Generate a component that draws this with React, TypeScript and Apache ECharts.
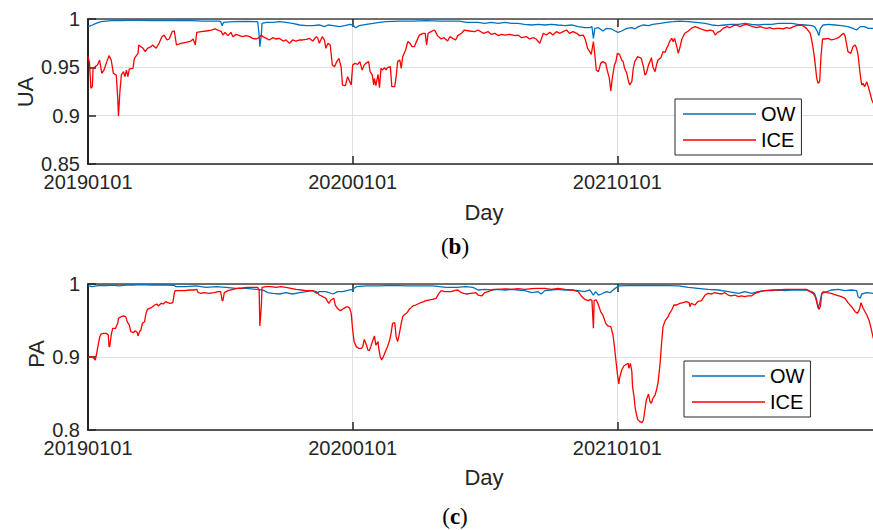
import React, { useEffect, useRef } from "react";
import * as echarts from "echarts";

const X_TICK_LABELS = ["20190101", "20200101", "20210101"];
const SERIES_NAMES = ["OW", "ICE"];

// (b) UA — ICE
const UA_ICE_DAY = [0,2,4,6,7,13,16,19,22,26,29,32,35,39,41,42,44,46,49,51,53,55,57,62,64,69,70,73,76,79,82,87,89,94,98,102,105,109,112,116,119,122,128,135,142,145,148,150,156,163,170,175,179,184,186,189,193,197,200,204,209,213,218,223,227,232,236,239,241,246,250,255,259,264,269,273,278,282,287,292,296,301,305,310,315,317,319,323,326,328,331,334,337,340,343,346,349,351,355,358,361,363,365,368,372,375,378,381,383,387,389,392,394,395,397,400,402,404,406,409,411,413,417,419,423,425,427,430,432,434,438,441,444,447,450,453,457,462,465,467,469,473,478,482,487,491,496,499,503,507,510,515,519,526,533,538,545,552,556,561,566,570,575,582,589,593,598,605,609,614,618,623,628,632,637,641,646,651,655,660,664,669,674,678,683,686,689,692,694,697,699,701,704,707,710,714,716,719,721,723,726,728,730,733,736,738,740,743,745,747,750,752,754,758,761,763,766,768,770,773,775,777,779,782,784,786,790,793,796,798,800,802,805,807,809,812,814,816,819,823,828,832,837,841,845,850,854,858,862,865,868,871,876,881,885,890,894,899,904,908,913,917,922,927,931,936,940,945,950,954,959,963,968,973,977,982,986,991,996,998,1000,1002,1005,1007,1009,1011,1013,1016,1021,1025,1030,1035,1039,1042,1044,1046,1048,1052,1055,1058,1060,1062,1065,1067,1069,1071,1074,1076,1078,1081,1083];
const UA_ICE = [0.961,0.955,0.9283,0.930,0.949,0.9524,0.9576,0.9438,0.9472,0.9559,0.9621,0.9576,0.9438,0.9421,0.9179,0.8997,0.9248,0.9421,0.9455,0.9403,0.9472,0.9403,0.9483,0.949,0.9593,0.9645,0.9731,0.9714,0.9697,0.9662,0.9697,0.9714,0.9731,0.9697,0.9748,0.9817,0.9834,0.9783,0.9793,0.9869,0.9876,0.9731,0.9748,0.9759,0.9772,0.9793,0.9731,0.9862,0.9869,0.9876,0.9886,0.9897,0.9886,0.9869,0.9834,0.9862,0.9828,0.9862,0.9817,0.9841,0.9828,0.9817,0.9828,0.9817,0.98,0.9793,0.9807,0.9834,0.9817,0.98,0.9783,0.9807,0.9793,0.98,0.9772,0.9783,0.9748,0.9783,0.9772,0.9783,0.9783,0.979,0.98,0.9772,0.9817,0.98,0.9748,0.9817,0.9783,0.9697,0.9748,0.9731,0.9524,0.9507,0.9559,0.9593,0.9507,0.9317,0.931,0.9403,0.9352,0.9317,0.9524,0.9541,0.9531,0.9559,0.9472,0.9524,0.9541,0.9559,0.9455,0.9421,0.9317,0.9386,0.931,0.9428,0.929,0.949,0.9472,0.9497,0.9472,0.9497,0.9507,0.93,0.93,0.9403,0.9559,0.9576,0.949,0.961,0.9679,0.9766,0.9748,0.9714,0.9714,0.9766,0.9834,0.9852,0.9852,0.9731,0.9852,0.9869,0.9886,0.9828,0.9793,0.9807,0.9772,0.9817,0.98,0.9783,0.9828,0.9852,0.9886,0.9876,0.9869,0.9886,0.9852,0.9869,0.9841,0.9852,0.9828,0.9841,0.9834,0.9841,0.9828,0.9834,0.9807,0.9817,0.9793,0.9807,0.9793,0.9748,0.9852,0.9834,0.9862,0.9834,0.9869,0.9852,0.9869,0.9886,0.9852,0.9869,0.9852,0.9828,0.9834,0.9783,0.9697,0.9662,0.9634,0.9766,0.9628,0.9472,0.9455,0.9541,0.9559,0.9541,0.9472,0.9386,0.9255,0.9386,0.9524,0.9559,0.9645,0.9634,0.9576,0.9559,0.949,0.9438,0.9369,0.9317,0.9352,0.949,0.9559,0.961,0.96,0.9593,0.9507,0.9421,0.9438,0.9524,0.9559,0.96,0.9507,0.9455,0.9524,0.9576,0.96,0.9662,0.9655,0.9697,0.9724,0.9766,0.98,0.9766,0.98,0.9714,0.9645,0.9697,0.9793,0.9852,0.9876,0.9903,0.9921,0.991,0.9897,0.9886,0.9876,0.9886,0.9876,0.9834,0.9862,0.9869,0.9903,0.9921,0.991,0.9931,0.9938,0.9921,0.9938,0.9945,0.9931,0.9921,0.991,0.9921,0.991,0.9903,0.991,0.9897,0.9903,0.9903,0.9897,0.991,0.9903,0.9921,0.9931,0.9938,0.9931,0.9903,0.9852,0.9783,0.9697,0.9593,0.9386,0.9334,0.9352,0.9628,0.9793,0.9793,0.98,0.9783,0.9793,0.9807,0.9834,0.9852,0.9828,0.9748,0.9662,0.9645,0.9714,0.9731,0.9697,0.9628,0.9421,0.9317,0.9334,0.93,0.9352,0.93,0.9248,0.9162,0.9128];

// (b) UA — OW
const UA_OW_DAY = [0,6,11,18,25,34,43,57,71,89,112,135,158,181,183,185,187,200,218,234,236,237,239,240,246,255,264,273,282,292,301,310,319,326,331,338,347,354,361,365,369,374,384,393,402,411,430,448,466,485,503,512,522,533,538,547,556,566,575,584,593,602,612,621,630,639,648,658,667,676,685,692,695,697,699,704,710,715,722,727,731,736,743,750,754,759,766,773,779,789,798,807,816,828,839,851,860,869,878,887,897,906,915,924,933,943,952,961,970,979,989,998,1002,1006,1008,1010,1014,1021,1030,1039,1048,1055,1060,1065,1071,1076,1083];
const UA_OW = [0.9921,0.9938,0.9955,0.9972,0.9979,0.9983,0.9983,0.9986,0.9986,0.9983,0.9983,0.9986,0.9979,0.9979,0.9972,0.9931,0.9966,0.9972,0.9976,0.9972,0.9834,0.9714,0.9834,0.9955,0.9966,0.9966,0.9972,0.9966,0.9955,0.9938,0.9931,0.9931,0.9938,0.9921,0.9938,0.9931,0.9921,0.9931,0.9945,0.9938,0.991,0.9931,0.9945,0.9955,0.9966,0.9972,0.9979,0.9979,0.9983,0.9979,0.9979,0.9979,0.9966,0.9966,0.9966,0.9955,0.9966,0.9955,0.9966,0.9955,0.9955,0.9945,0.9938,0.9945,0.9938,0.9945,0.9938,0.9931,0.9938,0.9921,0.991,0.991,0.9921,0.98,0.9903,0.991,0.9876,0.9903,0.9897,0.9876,0.9862,0.9876,0.9903,0.991,0.9897,0.9921,0.9938,0.9931,0.9945,0.9955,0.9966,0.9972,0.9979,0.9972,0.9966,0.9955,0.9938,0.9931,0.9938,0.9945,0.9945,0.9955,0.9945,0.9938,0.9945,0.9945,0.9955,0.9955,0.9955,0.9945,0.9938,0.9931,0.9921,0.9869,0.9828,0.9903,0.9938,0.9945,0.9938,0.9931,0.9921,0.9903,0.9886,0.9921,0.9921,0.9903,0.9903];

// (c) PA — ICE
const PA_ICE_DAY = [0,4,7,10,12,14,16,18,21,25,28,29,30,32,34,38,41,42,46,49,52,54,57,59,63,65,68,69,71,73,75,78,80,82,85,88,92,95,97,101,104,107,110,113,117,119,120,126,133,140,147,150,152,156,160,167,174,180,183,185,186,188,193,200,206,213,220,227,234,236,237,239,240,246,252,259,266,273,280,287,294,301,308,315,319,324,328,332,335,339,341,344,348,351,355,358,361,363,365,367,370,373,377,379,381,384,386,388,390,393,395,397,400,401,403,405,407,410,413,416,418,420,423,425,427,429,432,434,436,439,441,443,446,448,452,455,459,463,466,471,475,480,484,487,492,496,501,505,510,515,521,528,535,538,543,547,552,559,566,575,584,593,602,612,621,630,639,648,658,667,676,681,685,690,693,695,697,698,701,704,707,710,714,717,721,724,726,728,730,732,733,736,739,743,745,746,748,750,751,753,755,758,761,764,766,768,770,773,775,777,779,782,784,786,789,791,793,796,800,802,805,808,812,816,821,825,829,830,832,837,841,846,851,855,860,864,869,874,878,883,887,892,897,901,906,910,915,920,927,933,943,952,961,970,979,986,991,996,1000,1003,1006,1008,1010,1012,1014,1019,1025,1032,1039,1044,1048,1053,1058,1061,1064,1066,1069,1074,1077,1080,1083];
const PA_ICE = [0.8995,0.9005,0.8995,0.8959,0.905,0.9164,0.9269,0.9315,0.9324,0.9324,0.9301,0.9142,0.9142,0.9301,0.9393,0.9393,0.9461,0.953,0.9553,0.9562,0.9553,0.9484,0.9438,0.9347,0.9333,0.9361,0.9333,0.9288,0.9347,0.937,0.9461,0.9484,0.9598,0.9653,0.9667,0.968,0.9712,0.9726,0.9699,0.9735,0.9726,0.9758,0.9744,0.9735,0.9744,0.9872,0.9909,0.9909,0.9909,0.9918,0.9918,0.9927,0.9881,0.9872,0.9881,0.9872,0.9881,0.9895,0.9895,0.9772,0.9772,0.9881,0.9909,0.9927,0.9941,0.9945,0.9954,0.9954,0.9954,0.9918,0.9425,0.9689,0.9954,0.9963,0.9963,0.9954,0.9963,0.9954,0.9941,0.9927,0.9918,0.9909,0.9909,0.9895,0.9849,0.9826,0.9804,0.9735,0.9781,0.9804,0.9712,0.9667,0.9635,0.9653,0.968,0.9689,0.9667,0.9598,0.937,0.921,0.9142,0.9119,0.9119,0.9142,0.9242,0.9164,0.9096,0.9087,0.9142,0.9233,0.9288,0.9164,0.921,0.9119,0.9005,0.8959,0.8995,0.9073,0.9142,0.9233,0.9324,0.9461,0.947,0.9279,0.921,0.9301,0.9461,0.9553,0.9575,0.9598,0.9621,0.9653,0.968,0.9699,0.9712,0.9726,0.9744,0.9758,0.9772,0.9781,0.979,0.9804,0.9872,0.9909,0.9895,0.9895,0.9895,0.9909,0.9918,0.9881,0.9863,0.9872,0.9881,0.9849,0.9836,0.9881,0.9895,0.9927,0.9927,0.9932,0.9927,0.9936,0.9927,0.9936,0.9941,0.9941,0.9927,0.9941,0.9927,0.9918,0.9895,0.9826,0.979,0.9772,0.979,0.9772,0.9393,0.9772,0.9781,0.9712,0.9621,0.9575,0.9461,0.9425,0.9416,0.9301,0.9142,0.8959,0.8776,0.863,0.8708,0.8822,0.8877,0.8904,0.8913,0.8845,0.8913,0.8799,0.8594,0.8457,0.8274,0.8146,0.8114,0.81,0.8137,0.8274,0.8411,0.8493,0.8388,0.8365,0.8434,0.8479,0.8548,0.8639,0.8913,0.9187,0.9416,0.9498,0.9553,0.9598,0.9644,0.9712,0.9712,0.9735,0.9744,0.9758,0.9744,0.9689,0.9735,0.9712,0.9758,0.9772,0.9849,0.9872,0.9863,0.9881,0.9872,0.9863,0.9881,0.9849,0.9836,0.9849,0.9826,0.9836,0.9826,0.9836,0.9836,0.9872,0.9895,0.9909,0.9918,0.9918,0.9927,0.9927,0.9927,0.9927,0.9927,0.9895,0.9872,0.9826,0.9712,0.9653,0.9689,0.9872,0.9895,0.9881,0.9872,0.9849,0.9826,0.9804,0.9744,0.9689,0.9621,0.9598,0.9653,0.9744,0.9667,0.9575,0.9507,0.9393,0.9256];

// (c) PA — OW
const PA_OW_DAY = [0,6,16,25,34,43,52,62,71,89,108,119,121,135,149,163,177,190,204,218,232,241,248,255,264,273,282,292,301,310,315,319,328,338,344,351,361,365,370,384,402,420,439,457,475,494,508,521,531,538,547,556,566,575,584,593,602,612,621,625,630,639,648,658,667,676,685,692,697,700,704,708,715,720,724,729,733,745,759,773,786,800,814,828,841,855,869,883,897,906,915,924,933,943,952,961,970,979,989,998,1002,1005,1007,1009,1012,1019,1025,1035,1044,1053,1060,1062,1065,1067,1074,1083];
const PA_OW = [0.9973,0.9963,0.9982,0.9977,0.9986,0.9973,0.9986,0.9986,0.9991,0.9986,0.9986,0.9982,0.9963,0.9963,0.9973,0.9954,0.9963,0.9954,0.9941,0.9941,0.9927,0.9918,0.9881,0.9872,0.9863,0.9881,0.9863,0.9881,0.9895,0.9909,0.9872,0.9895,0.9895,0.9863,0.9895,0.9895,0.9918,0.9927,0.9963,0.9973,0.9973,0.9982,0.9973,0.9973,0.9973,0.9954,0.9954,0.9963,0.9954,0.9918,0.9927,0.9918,0.9927,0.9918,0.9927,0.9918,0.9909,0.9881,0.9895,0.9863,0.9909,0.9918,0.9927,0.9918,0.9918,0.9909,0.9895,0.9918,0.9849,0.9895,0.9849,0.9863,0.9895,0.9881,0.9918,0.9954,0.9973,0.9977,0.9977,0.9982,0.9977,0.9977,0.9973,0.9954,0.9941,0.9927,0.9918,0.9895,0.9872,0.9895,0.9872,0.9895,0.9909,0.9909,0.9918,0.9909,0.9918,0.9918,0.9918,0.9895,0.9872,0.9781,0.9667,0.9735,0.9872,0.9895,0.9918,0.9927,0.9909,0.9918,0.9909,0.9826,0.9804,0.9863,0.9881,0.9872];

const pairs = (days: number[], vals: number[]) => days.map((d, i) => [d, vals[i]]);

const FONT = "'Liberation Sans', Arial, Helvetica, sans-serif";
const SERIF = "'Liberation Serif', 'DejaVu Serif', serif";
const AX = "#262626";
const GRIDC = "#dfdfdf";
const OW_C = "#0072BD";
const ICE_C = "#FF0000";

function xAxes(gridIndex: number) {
  const common = {
    type: "value" as const,
    gridIndex,
    min: 0,
    max: 1095,
    interval: 365,
  };
  return [
    {
      ...common,
      position: "bottom",
      axisLine: { show: true, onZero: false, lineStyle: { color: AX, width: 1.5 } },
      axisTick: { show: true, inside: true, length: 8, lineStyle: { color: AX, width: 1.5 } },
      axisLabel: {
        show: true,
        margin: 10,
        fontSize: 20,
        lineHeight: 16,
        color: AX,
        fontFamily: FONT,
        formatter: (v: number) => X_TICK_LABELS[Math.round(v / 365)] ?? "",
      },
      splitLine: { show: true, lineStyle: { color: GRIDC, width: 1 } },
    },
    {
      ...common,
      position: "top",
      axisLine: { show: true, onZero: false, lineStyle: { color: "#444", width: 1.5 } },
      axisTick: { show: true, inside: true, length: 8, lineStyle: { color: AX, width: 1.5 } },
      axisLabel: { show: false },
      splitLine: { show: false },
    },
  ];
}

function yAxes(gridIndex: number, min: number, max: number, interval: number) {
  const common = { type: "value" as const, gridIndex, min, max, interval };
  return [
    {
      ...common,
      position: "left",
      axisLine: { show: true, onZero: false, lineStyle: { color: AX, width: 2 } },
      axisTick: { show: true, inside: true, length: 8, lineStyle: { color: AX, width: 1.5 } },
      axisLabel: { show: true, margin: 8, fontSize: 20, lineHeight: 16, color: AX, fontFamily: FONT },
      splitLine: { show: true, lineStyle: { color: GRIDC, width: 1 } },
    },
    {
      ...common,
      position: "right",
      axisLine: { show: true, onZero: false, lineStyle: { color: AX, width: 1.5 } },
      axisTick: { show: true, inside: true, length: 8, lineStyle: { color: AX, width: 1.5 } },
      axisLabel: { show: false },
      splitLine: { show: false },
    },
  ];
}

function lineSeries(name: string, color: string, xi: number, yi: number, data: number[][]) {
  return {
    name,
    type: "line",
    xAxisIndex: xi,
    yAxisIndex: yi,
    data,
    symbol: "none",
    showSymbol: false,
    lineStyle: { color, width: 1.3 },
    itemStyle: { color },
    emphasis: { disabled: true },
  };
}

function legendAt(left: number, top: number) {
  return {
    data: SERIES_NAMES.map((name) => ({ name, icon: "rect" })),
    orient: "vertical",
    left,
    top,
    itemWidth: 73,
    itemHeight: 1.5,
    itemGap: 6,
    padding: [5, 6, 5, 8],
    borderColor: AX,
    borderWidth: 1,
    backgroundColor: "#ffffff",
    selectedMode: false,
    textStyle: { fontSize: 20, lineHeight: 20, color: "#000", fontFamily: FONT },
  };
}

function textEl(text: string, x: number, y: number, size: number, rotation = 0) {
  return {
    type: "text",
    x,
    y,
    rotation,
    style: {
      text,
      fill: AX,
      fontSize: size,
      fontFamily: FONT,
      align: "center",
      verticalAlign: "middle",
    },
  };
}

function captionEl(letter: string, x: number, y: number) {
  return {
    type: "text",
    x,
    y,
    style: {
      text: `{p|(}{b|${letter}}{p|)}`,
      align: "center",
      verticalAlign: "middle",
      rich: {
        p: { fontSize: 23, fontFamily: SERIF, fill: "#000", fontWeight: "normal" },
        b: { fontSize: 23, fontFamily: SERIF, fill: "#000", fontWeight: "bold" },
      },
    },
  };
}

export default function App() {
  const ref = useRef<HTMLDivElement>(null);
  useEffect(() => {
    if (!ref.current) return;
    const chart = echarts.init(ref.current, null, { renderer: "svg" });
    const option = {
      animation: false,
      backgroundColor: "#ffffff",
      grid: [
        { left: 88, top: 19, width: 794, height: 145, outerBoundsMode: "none", containLabel: false },
        { left: 88, top: 284, width: 794, height: 146, outerBoundsMode: "none", containLabel: false },
      ],
      xAxis: [...xAxes(0), ...xAxes(1)],
      yAxis: [...yAxes(0, 0.85, 1, 0.05), ...yAxes(1, 0.8, 1, 0.1)],
      legend: [legendAt(675, 99), legendAt(684, 361)],
      series: [
        lineSeries("OW", OW_C, 0, 0, pairs(UA_OW_DAY, UA_OW)),
        lineSeries("ICE", ICE_C, 0, 0, pairs(UA_ICE_DAY, UA_ICE)),
        lineSeries("OW", OW_C, 2, 2, pairs(PA_OW_DAY, PA_OW)),
        lineSeries("ICE", ICE_C, 2, 2, pairs(PA_ICE_DAY, PA_ICE)),
      ],
      graphic: [
        textEl("UA", 25, 92, 22, Math.PI / 2),
        textEl("PA", 36, 354, 22, Math.PI / 2),
        textEl("Day", 484, 212, 22),
        textEl("Day", 484, 477, 22),
        captionEl("b", 455, 246),
        captionEl("c", 455, 516),
      ],
    };
    chart.setOption(option as any);
    return () => chart.dispose();
  }, []);
  return (
    <div
      ref={ref}
      style={{ position: "absolute", left: 0, top: 0, width: 873, height: 530, background: "#fff" }}
    />
  );
}
